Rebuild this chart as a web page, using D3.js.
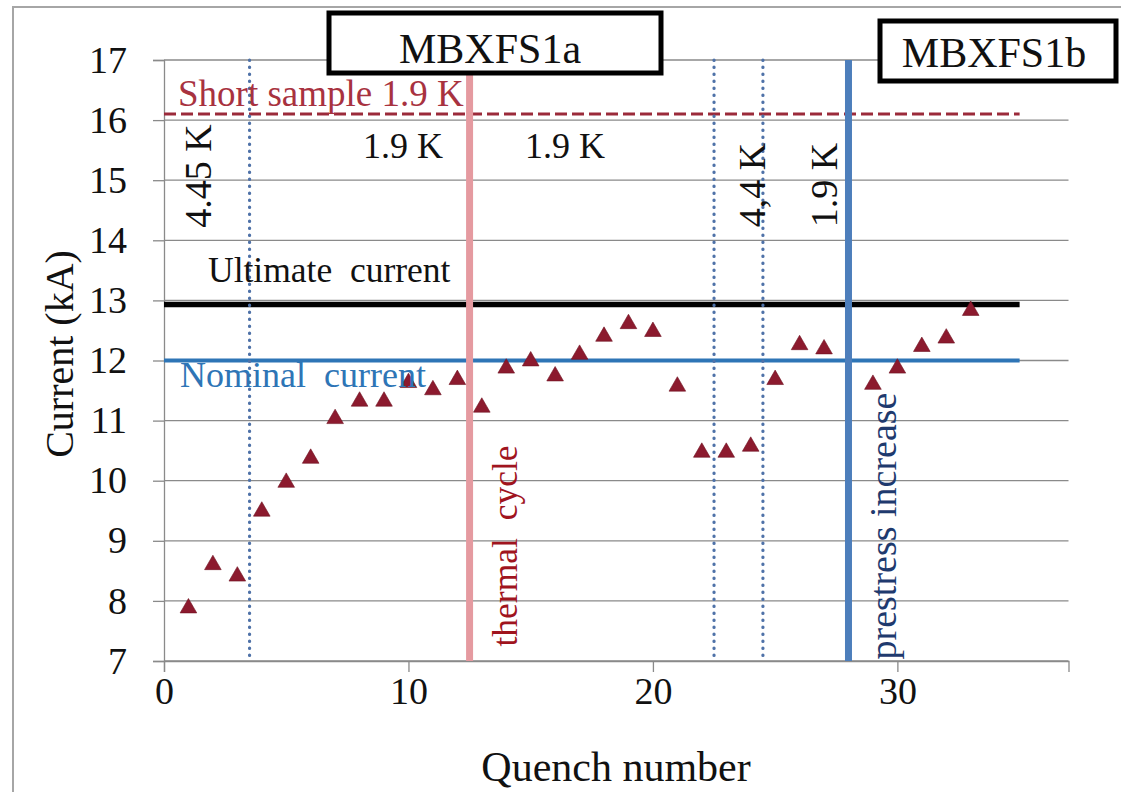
<!DOCTYPE html>
<html>
<head>
<meta charset="utf-8">
<script src="https://cdn.jsdelivr.net/npm/d3@7"></script>
<style>
  html, body { margin: 0; padding: 0; background: #fff; }
  svg { display: block; }
  text { font-family: "Liberation Serif", "Times New Roman", serif; white-space: pre; }
</style>
</head>
<body>
<svg id="chart" width="1121" height="792"></svg>
<script>
// ---- Data ----
const quench = [1,2,3,4,5,6,7,8,9,10,11,12,13,14,15,16,17,18,19,20,21,22,23,24,25,26,27,29,30,31,32,33];
const current = [7.88,8.6,8.41,9.49,9.97,10.37,11.03,11.32,11.32,11.63,11.51,11.68,11.22,11.87,11.99,11.74,12.1,12.4,12.61,12.48,11.57,10.47,10.47,10.57,11.68,12.26,12.19,11.6,11.87,12.23,12.37,12.83];
const xTicks = [0,10,20,30];
const yTicks = [7,8,9,10,11,12,13,14,15,16,17];
const xDomain = [0,37];
const yDomain = [7,17];
// reference levels (kA)
const shortSample = 16.1, ultimate = 12.93, nominal = 12.0;
const levelEnd = 35;
// vertical markers (quench number)
const dottedLines = [3.5, 22.5, 24.5];
const thermalCycleAt = 12.5;
const prestressAt = 28;
// temperature labels
const tempLabelsH = [{x: 9.78, y: 15.53, t: "1.9 K"}, {x: 16.4, y: 15.53, t: "1.9 K"}];
const tempLabelsV = [{x: 1.92, y: 15.07, t: "4.45 K"}, {x: 24.58, y: 14.92, t: "4,4 K"}, {x: 27.53, y: 14.92, t: "1.9 K"}];

// ---- Layout ----
const svg = d3.select("#chart");
const x = d3.scaleLinear().domain(xDomain).range([164, 1068.5]);
const y = d3.scaleLinear().domain(yDomain).range([661, 60]);
const FONT = '"Liberation Serif", "Times New Roman", serif';

// outer frame
svg.append("rect").attr("x", 13).attr("y", 7).attr("width", 1200).attr("height", 900)
  .attr("fill", "none").attr("stroke", "#a6a6a6").attr("stroke-width", 2);

// gridlines
svg.append("g").selectAll("line").data(yTicks).join("line")
  .attr("x1", x(0)).attr("x2", x(xDomain[1]))
  .attr("y1", d => y(d)).attr("y2", d => y(d))
  .attr("stroke", "#8a8a8a").attr("stroke-width", 1.3);

// y axis
const yAxis = svg.append("g").attr("transform", `translate(${x(0)},0)`)
  .call(d3.axisLeft(y).tickValues(yTicks).tickSize(11).tickPadding(26).tickFormat(d3.format("d")));
yAxis.select(".domain").attr("stroke", "#8a8a8a").attr("stroke-width", 1.3);
yAxis.selectAll(".tick line").attr("stroke", "#8a8a8a").attr("stroke-width", 1.3);
yAxis.selectAll(".tick text").attr("font-family", FONT).attr("font-size", 38).attr("fill", "#111");

// x axis
const xAxis = svg.append("g").attr("transform", `translate(0,${y(7)})`)
  .call(d3.axisBottom(x).tickValues(xTicks).tickSize(11).tickPadding(5).tickFormat(d3.format("d")));
xAxis.select(".domain").attr("stroke", "#8a8a8a").attr("stroke-width", 1.3);
xAxis.selectAll(".tick line").attr("stroke", "#8a8a8a").attr("stroke-width", 1.3);
xAxis.selectAll(".tick text").attr("font-family", FONT).attr("font-size", 38).attr("fill", "#111");

// horizontal reference lines
svg.append("line").attr("x1", x(0)).attr("x2", x(levelEnd)).attr("y1", y(ultimate)).attr("y2", y(ultimate))
  .attr("stroke", "#000").attr("stroke-width", 5.5);
svg.append("line").attr("x1", x(0)).attr("x2", x(levelEnd)).attr("y1", y(nominal)).attr("y2", y(nominal))
  .attr("stroke", "#2e75b6").attr("stroke-width", 4);
svg.append("line").attr("x1", x(0)).attr("x2", x(levelEnd)).attr("y1", y(shortSample)).attr("y2", y(shortSample))
  .attr("stroke", "#9b2a3a").attr("stroke-width", 3).attr("stroke-dasharray", "12,5");

// vertical lines
svg.append("g").selectAll("line").data(dottedLines).join("line")
  .attr("x1", d => x(d)).attr("x2", d => x(d)).attr("y1", y(17)).attr("y2", y(7))
  .attr("stroke", "#4f72a8").attr("stroke-width", 3.2).attr("stroke-linecap", "round")
  .attr("stroke-dasharray", "0.5,6.5");
svg.append("line").attr("x1", x(thermalCycleAt)).attr("x2", x(thermalCycleAt)).attr("y1", y(17)).attr("y2", y(7))
  .attr("stroke", "#e59aa0").attr("stroke-width", 7);
svg.append("line").attr("x1", x(prestressAt)).attr("x2", x(prestressAt)).attr("y1", y(17)).attr("y2", y(7))
  .attr("stroke", "#4d7ebb").attr("stroke-width", 7);

// data markers
svg.append("g").selectAll("path").data(quench.map((q, i) => [q, current[i]])).join("path")
  .attr("transform", d => `translate(${x(d[0])},${y(d[1])})`)
  .attr("d", d3.symbol(d3.symbolTriangle, 120))
  .attr("fill", "#8c1a2e").attr("stroke", "#6e1020").attr("stroke-width", 0.6);

// text labels
function txt(px, py, s, size, color, anchor, rot) {
  const t = svg.append("text").attr("font-size", size).attr("fill", color)
    .attr("text-anchor", anchor || "start").text(s);
  t.attr("transform", `translate(${px},${py})` + (rot ? ` rotate(${rot})` : ""));
  return t;
}
txt(178, 106, "Short sample 1.9 K", 37, "#a8323f");
txt(208, 282, "Ultimate  current", 35.5, "#111");
txt(180, 387, "Nominal  current", 36, "#2e75b6");
tempLabelsH.forEach(d => txt(x(d.x), y(d.y) + 10, d.t, 36, "#111", "middle"));
tempLabelsV.forEach(d => txt(x(d.x), y(d.y), d.t, 38, "#111", "middle", -90));
txt(517, 546, "thermal  cycle", 35.5, "#a0141e", "middle", -90);
txt(896, 526, "prestress increase", 38, "#1f3a6e", "middle", -90);

// axis titles
txt(616, 781, "Quench number", 42, "#111", "middle");
txt(73, 354, "Current (kA)", 40, "#111", "middle", -90);

// boxes
function box(x0, y0, w, h, s, tx, ty) {
  svg.append("rect").attr("x", x0).attr("y", y0).attr("width", w).attr("height", h)
    .attr("fill", "#fff").attr("stroke", "#000").attr("stroke-width", 5);
  txt(tx, ty, s, 42, "#111", "middle");
}
box(329, 13, 332, 60, "MBXFS1a", 490, 63);
box(880, 21, 236, 60, "MBXFS1b", 994, 67);
</script>
</body>
</html>
